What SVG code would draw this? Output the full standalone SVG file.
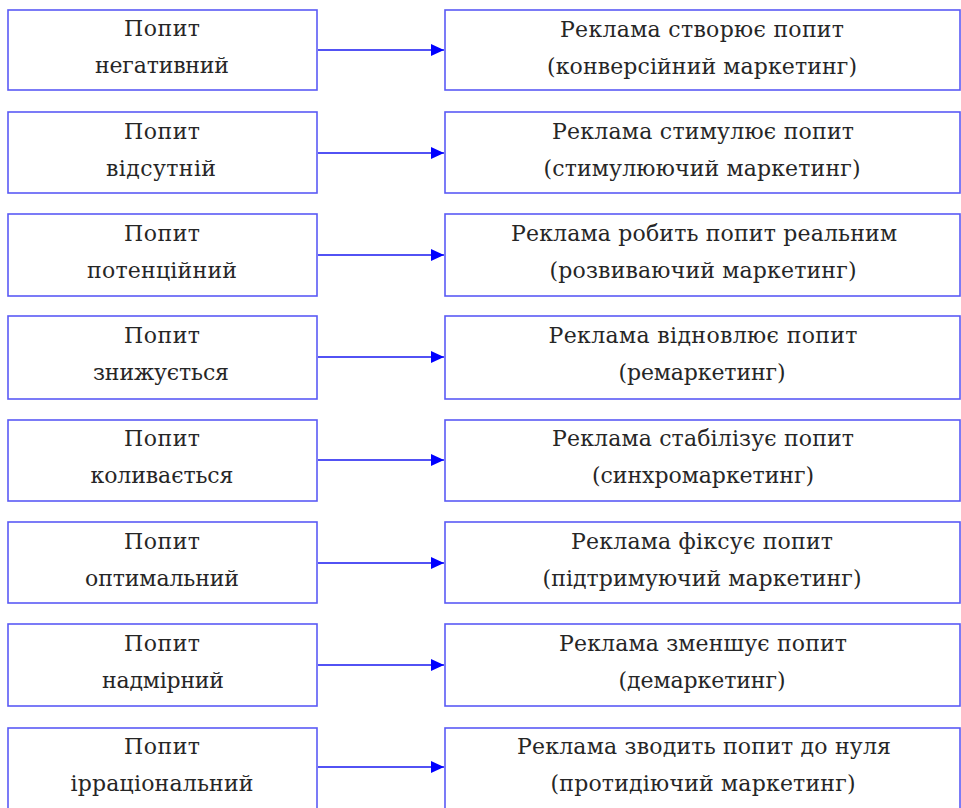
<svg xmlns="http://www.w3.org/2000/svg" width="961" height="808" viewBox="0 0 961 808">
<style>
.box{fill:#ffffff;stroke:#5a5af5;stroke-width:1.6}
.t{font-family:"DejaVu Serif","Liberation Serif",serif;font-size:22px;fill:#262626;text-anchor:middle}
.c{stroke:#1818f0;stroke-width:1.4;fill:none}
</style>
<defs>
<marker id="ah" markerUnits="userSpaceOnUse" markerWidth="14" markerHeight="14" refX="13" refY="6" orient="auto">
<path d="M0,0 L13,6 L0,12 Z" fill="#0000ff"/>
</marker>
</defs>
<rect width="961" height="808" fill="#ffffff"/>

<g id="connectors">
<line class="c" x1="318" y1="50" x2="444" y2="50" marker-end="url(#ah)"/>
<line class="c" x1="318" y1="153" x2="444" y2="153" marker-end="url(#ah)"/>
<line class="c" x1="318" y1="255" x2="444" y2="255" marker-end="url(#ah)"/>
<line class="c" x1="318" y1="357" x2="444" y2="357" marker-end="url(#ah)"/>
<line class="c" x1="318" y1="460" x2="444" y2="460" marker-end="url(#ah)"/>
<line class="c" x1="318" y1="563" x2="444" y2="563" marker-end="url(#ah)"/>
<line class="c" x1="318" y1="665" x2="444" y2="665" marker-end="url(#ah)"/>
<line class="c" x1="318" y1="767" x2="444" y2="767" marker-end="url(#ah)"/>
</g>

<g id="l1"><rect class="box" x="8" y="10" width="309" height="80"/>
<text class="t" x="162" y="36" textLength="76" lengthAdjust="spacing">Попит</text>
<text class="t" x="162" y="73" textLength="134" lengthAdjust="spacing">негативний</text></g>
<g id="r1"><rect class="box" x="445" y="10" width="515" height="80"/>
<text class="t" x="702" y="37" textLength="284" lengthAdjust="spacing">Реклама створює попит</text>
<text class="t" x="702" y="74" textLength="310" lengthAdjust="spacing">(конверсійний маркетинг)</text></g>

<g id="l2"><rect class="box" x="8" y="112" width="309" height="81"/>
<text class="t" x="162" y="139" textLength="76" lengthAdjust="spacing">Попит</text>
<text class="t" x="161" y="176" textLength="110" lengthAdjust="spacing">відсутній</text></g>
<g id="r2"><rect class="box" x="445" y="112" width="515" height="81"/>
<text class="t" x="703" y="139" textLength="302" lengthAdjust="spacing">Реклама стимулює попит</text>
<text class="t" x="702" y="176" textLength="317" lengthAdjust="spacing">(стимулюючий маркетинг)</text></g>

<g id="l3"><rect class="box" x="8" y="214" width="309" height="82"/>
<text class="t" x="162" y="241" textLength="76" lengthAdjust="spacing">Попит</text>
<text class="t" x="162" y="278" textLength="150" lengthAdjust="spacing">потенційний</text></g>
<g id="r3"><rect class="box" x="445" y="214" width="515" height="82"/>
<text class="t" x="704" y="241" textLength="386" lengthAdjust="spacing">Реклама робить попит реальним</text>
<text class="t" x="703" y="278" textLength="307" lengthAdjust="spacing">(розвиваючий маркетинг)</text></g>

<g id="l4"><rect class="box" x="8" y="316" width="309" height="83"/>
<text class="t" x="162" y="343" textLength="76" lengthAdjust="spacing">Попит</text>
<text class="t" x="161" y="380" textLength="136" lengthAdjust="spacing">знижується</text></g>
<g id="r4"><rect class="box" x="445" y="316" width="515" height="83"/>
<text class="t" x="703" y="343" textLength="309" lengthAdjust="spacing">Реклама відновлює попит</text>
<text class="t" x="702" y="380" textLength="167" lengthAdjust="spacing">(ремаркетинг)</text></g>

<g id="l5"><rect class="box" x="8" y="420" width="309" height="81"/>
<text class="t" x="162" y="446" textLength="76" lengthAdjust="spacing">Попит</text>
<text class="t" x="162" y="483" textLength="143" lengthAdjust="spacing">коливається</text></g>
<g id="r5"><rect class="box" x="445" y="420" width="515" height="81"/>
<text class="t" x="703" y="446" textLength="302" lengthAdjust="spacing">Реклама стабілізує попит</text>
<text class="t" x="703" y="483" textLength="222" lengthAdjust="spacing">(синхромаркетинг)</text></g>

<g id="l6"><rect class="box" x="8" y="522" width="309" height="81"/>
<text class="t" x="162" y="549" textLength="76" lengthAdjust="spacing">Попит</text>
<text class="t" x="162" y="586" textLength="154" lengthAdjust="spacing">оптимальний</text></g>
<g id="r6"><rect class="box" x="445" y="522" width="515" height="81"/>
<text class="t" x="702" y="549" textLength="262" lengthAdjust="spacing">Реклама фіксує попит</text>
<text class="t" x="702" y="586" textLength="319" lengthAdjust="spacing">(підтримуючий маркетинг)</text></g>

<g id="l7"><rect class="box" x="8" y="624" width="309" height="82"/>
<text class="t" x="162" y="651" textLength="76" lengthAdjust="spacing">Попит</text>
<text class="t" x="163" y="688" textLength="122" lengthAdjust="spacing">надмірний</text></g>
<g id="r7"><rect class="box" x="445" y="624" width="515" height="82"/>
<text class="t" x="703" y="651" textLength="288" lengthAdjust="spacing">Реклама зменшує попит</text>
<text class="t" x="702" y="688" textLength="167" lengthAdjust="spacing">(демаркетинг)</text></g>

<g id="l8"><rect class="box" x="8" y="728" width="309" height="90"/>
<text class="t" x="162" y="754" textLength="76" lengthAdjust="spacing">Попит</text>
<text class="t" x="162" y="791" textLength="183" lengthAdjust="spacing">ірраціональний</text></g>
<g id="r8"><rect class="box" x="445" y="728" width="515" height="90"/>
<text class="t" x="704" y="754" textLength="374" lengthAdjust="spacing">Реклама зводить попит до нуля</text>
<text class="t" x="703" y="791" textLength="305" lengthAdjust="spacing">(протидіючий маркетинг)</text></g>
</svg>
